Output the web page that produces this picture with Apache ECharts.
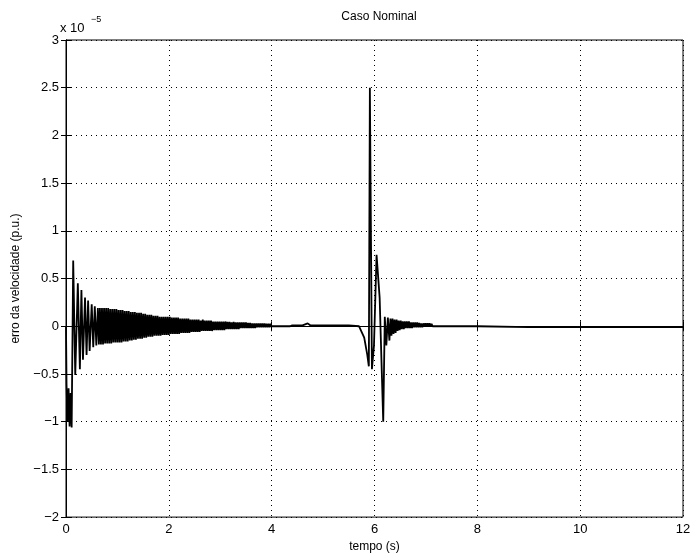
<!DOCTYPE html>
<html>
<head>
<meta charset="utf-8">
<script src="https://cdn.jsdelivr.net/npm/echarts@6/dist/echarts.min.js"></script>
<style>
html,body{margin:0;padding:0;background:#fff;}
#c{width:694px;height:558px;}
</style>
</head>
<body>
<div id="c"></div>
<script>
// values in units of 1e-5 p.u.
var titleText = 'Caso Nominal';
var xName = 'tempo (s)';
var yName = 'erro da velocidade (p.u.)';
var xTicks = [0, 2, 4, 6, 8, 10, 12];
var yTicks = [-2, -1.5, -1, -0.5, 0, 0.5, 1, 1.5, 2, 2.5, 3];

// initial transient
var startPart = [
 [0,0],[0.01,-0.6],[0.03,-1.0],[0.05,-0.65],[0.07,-1.05],[0.09,-0.7],[0.11,-1.06],
 [0.14,0.69],[0.18,-0.51],[0.23,0.45],[0.27,-0.45],[0.30,0.38],[0.33,-0.35],
 [0.37,0.3],[0.40,-0.3],[0.43,0.27],[0.46,-0.26],[0.50,0.23],[0.53,-0.22],
 [0.56,0.21],[0.59,-0.2],[0.62,0.19]
];
// dense decaying oscillation
var bandPart = [
 [0.64,-0.19],[0.66,0.19],[0.68,-0.19],[0.70,0.19],[0.72,-0.19],[0.74,0.19],[0.76,-0.18],[0.78,0.19],[0.80,-0.18],[0.82,0.19],[0.84,-0.18],[0.86,0.18],[0.88,-0.18],[0.90,0.18],
 [0.92,-0.17],[0.94,0.18],[0.96,-0.17],[0.98,0.18],[1.00,-0.17],[1.02,0.17],[1.04,-0.17],[1.06,0.17],[1.08,-0.17],[1.10,0.17],
 [1.12,-0.16],[1.14,0.16],[1.16,-0.16],[1.18,0.16],[1.20,-0.16],[1.22,0.16],[1.24,-0.15],[1.26,0.15],[1.28,-0.15],[1.30,0.15],[1.32,-0.14],[1.34,0.15],[1.36,-0.14],[1.38,0.14],
 [1.40,-0.13],[1.42,0.14],[1.44,-0.13],[1.46,0.14],[1.48,-0.13],[1.50,0.13],[1.52,-0.12],[1.54,0.13],[1.56,-0.12],[1.58,0.12],[1.60,-0.11],[1.62,0.12],[1.64,-0.11],[1.66,0.12],[1.68,-0.11],[1.70,0.11],
 [1.72,-0.10],[1.74,0.11],[1.76,-0.10],[1.78,0.11],[1.80,-0.10],[1.82,0.10],[1.84,-0.10],[1.86,0.10],[1.88,-0.09],[1.90,0.10],[1.92,-0.09],[1.94,0.10],[1.96,-0.09],[1.98,0.10],[2.00,-0.09],[2.02,0.10],[2.04,-0.08],
 [2.06,0.09],[2.08,-0.08],[2.10,0.09],[2.12,-0.08],[2.14,0.09],[2.16,-0.08],[2.18,0.09],[2.20,-0.08],[2.22,0.08],[2.24,-0.07],[2.26,0.08],[2.28,-0.07],[2.30,0.08],[2.32,-0.07],[2.34,0.08],[2.36,-0.07],[2.38,0.08],[2.40,-0.07],[2.42,0.07],[2.44,-0.06],
 [2.46,0.07],[2.48,-0.06],[2.50,0.07],[2.52,-0.06],[2.54,0.07],[2.56,-0.06],[2.58,0.07],[2.60,-0.06],[2.62,0.06],[2.64,-0.05],
 [2.66,0.07],[2.68,-0.05],[2.70,0.06],[2.72,-0.05],[2.74,0.06],[2.76,-0.05],[2.78,0.06],[2.80,-0.05],[2.82,0.06],[2.84,-0.05],
 [2.86,0.05],[2.88,-0.04],[2.90,0.05],[2.92,-0.04],[2.94,0.05],[2.96,-0.04],[2.98,0.05],[3.00,-0.04],[3.02,0.05],[3.04,-0.04],[3.06,0.05],[3.08,-0.04],
 [3.10,0.05],[3.12,-0.03],[3.14,0.045],[3.16,-0.03],[3.18,0.045],[3.20,-0.03],[3.22,0.04],[3.24,-0.03],[3.26,0.045],[3.28,-0.03],[3.30,0.04],[3.32,-0.03],[3.34,0.04],[3.36,-0.03],[3.38,0.04],
 [3.40,-0.02],[3.42,0.04],[3.44,-0.02],[3.46,0.04],[3.48,-0.02],[3.50,0.04],[3.52,-0.02],[3.54,0.035],[3.56,-0.02],[3.58,0.035],[3.60,-0.02],[3.62,0.03],[3.64,-0.02],[3.66,0.03],[3.68,-0.02],
 [3.70,0.03],[3.72,-0.01],[3.74,0.03],[3.76,-0.01],[3.78,0.03],[3.80,-0.01],[3.82,0.03],[3.84,-0.01],[3.86,0.03],[3.88,-0.01],[3.90,0.025],[3.92,-0.01],[3.94,0.025],[3.96,-0.01],[3.98,0.025],
 [4.00,0.0],[4.02,0.02],[4.04,0.0],[4.06,0.02],[4.08,0.0],[4.10,0.02],[4.12,0.0],[4.14,0.02],[4.16,0.0],[4.18,0.02],[4.20,0.0],[4.22,0.02],[4.24,0.0],[4.26,0.02],[4.28,0.0],[4.30,0.02],[4.32,0.0],[4.34,0.02],[4.36,0.0],[4.38,0.02],[4.40,0.01]
];
// quiet stretch
var quietPart = [[4.5,0.01],[4.6,0.01],[4.7,0.03],[4.75,0.01],[5.0,0.01],[5.5,0.01],[5.7,0.0]];
// disturbance near 6 s
var spikePart = [
 [5.80,-0.12],[5.86,-0.3],[5.89,-0.42],[5.91,2.5],[5.95,-0.45],[5.99,-0.2],[6.04,0.75],
 [6.10,0.3],[6.17,-1.0],[6.20,0.1],[6.23,-0.2],[6.26,0.09],[6.29,-0.15],[6.31,0.08],[6.33,-0.1],
 [6.35,0.08],[6.37,-0.08],[6.39,0.07],[6.41,-0.07],[6.43,0.07],[6.45,-0.05],[6.47,0.06],[6.49,-0.04],
 [6.51,0.06],[6.53,-0.03],[6.55,0.05],[6.57,-0.03],[6.59,0.05],[6.61,-0.02],[6.63,0.05],[6.65,-0.02],
 [6.67,0.05],[6.69,-0.02],[6.71,0.04],[6.73,-0.02],[6.75,0.04],[6.77,-0.01],[6.79,0.04],[6.81,-0.01],
 [6.83,0.04],[6.85,-0.01],[6.87,0.035],[6.89,-0.01],[6.91,0.03],[6.93,-0.01],[6.95,0.03],[6.97,0.0],
 [6.99,0.03],[7.01,0.0],[7.03,0.03],[7.05,0.0],[7.07,0.03],[7.09,0.0],[7.11,0.025],[7.13,0.0],
 [7.15,0.02],[7.17,0.0],[7.19,0.02],[7.21,0.0],[7.23,0.02],[7.25,0.0],[7.27,0.02],[7.29,0.0],
 [7.31,0.02],[7.33,0.0],[7.35,0.02],[7.37,0.0],[7.40,0.01]
];
// settled tail
var tailPart = [[7.8,0.0],[8.0,0.0],[9.0,-0.01],[10.0,-0.01],[11.0,-0.01],[12.0,-0.01]];

var seriesData = startPart.concat(bandPart, quietPart, spikePart, tailPart);

var FONT = 'Liberation Sans, Arial, sans-serif';
function fmt(v){ return String(v).replace('-', '\u2212'); }

var chart = echarts.init(document.getElementById('c'), null, {renderer:'canvas'});
var gridSpec = {left:66, right:11, top:40, bottom:36};
var dotted = {show:true, lineStyle:{color:'#000', width:1, type:[1,4]}};
chart.setOption({
  animation:false,
  backgroundColor:'#fff',
  title:{text:titleText, left:374, top:6, textAlign:'center',
    textStyle:{fontFamily:FONT, fontSize:12, fontWeight:'normal', color:'#000'}},
  grid:Object.assign({show:true, borderColor:'#000', borderWidth:1, backgroundColor:'transparent'}, gridSpec),
  graphic:[
    {type:'text', left:60, top:22, style:{text:'x 10', fontFamily:FONT, fontSize:13, fill:'#000'}},
    {type:'text', left:91, top:15, style:{text:'\u22125', fontFamily:FONT, fontSize:9, fill:'#000'}}
  ],
  xAxis:[{
    type:'value', min:0, max:12, interval:2, position:'bottom',
    name:xName, nameLocation:'middle', nameGap:23,
    nameTextStyle:{fontFamily:FONT, fontSize:12, color:'#000'},
    axisLine:{show:true, lineStyle:{color:'#000', width:1}},
    axisTick:{show:true, inside:true, length:5, lineStyle:{color:'#000'}},
    axisLabel:{fontFamily:FONT, fontSize:13, color:'#000', margin:6, formatter:fmt},
    splitLine:dotted
  },{
    type:'value', min:0, max:12, interval:2, position:'top',
    axisLine:{show:true, lineStyle:{color:'#000'}},
    axisTick:{show:true, inside:true, length:5, lineStyle:{color:'#000'}},
    axisLabel:{show:false}, splitLine:{show:false}
  }],
  yAxis:[{
    type:'value', min:-2, max:3, interval:0.5, position:'left',
    name:yName, nameLocation:'middle', nameGap:44, nameRotate:90,
    nameTextStyle:{fontFamily:FONT, fontSize:12, color:'#000'},
    axisLine:{show:true, lineStyle:{color:'#000', width:1}},
    axisTick:{show:true, inside:true, length:5, lineStyle:{color:'#000'}},
    axisLabel:{fontFamily:FONT, fontSize:13, color:'#000', margin:7, formatter:fmt},
    splitLine:dotted
  },{
    type:'value', min:-2, max:3, interval:0.5, position:'right',
    axisLine:{show:true, lineStyle:{color:'#000'}},
    axisTick:{show:true, inside:true, length:5, lineStyle:{color:'#000'}},
    axisLabel:{show:false}, splitLine:{show:false}
  }],
  series:[{
    type:'line', data:seriesData, xAxisIndex:0, yAxisIndex:0,
    showSymbol:false, symbol:'none', smooth:false,
    lineStyle:{color:'#000', width:1.8},
    z:3
  }]
});
</script>
</body>
</html>
